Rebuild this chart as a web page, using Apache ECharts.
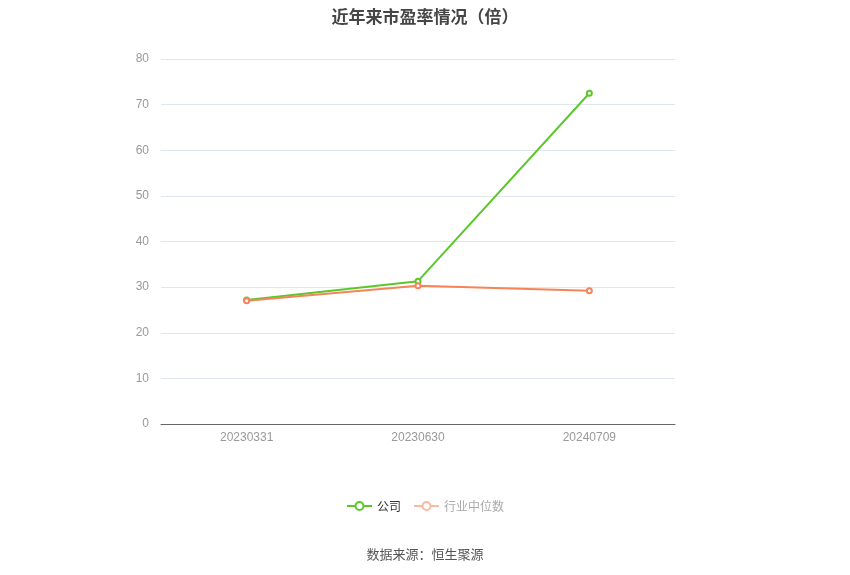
<!DOCTYPE html>
<html>
<head>
<meta charset="utf-8">
<script src="https://cdn.jsdelivr.net/npm/echarts@6/dist/echarts.min.js"></script>
<style>
  html, body { margin: 0; padding: 0; background: #fff; }
  #chart { width: 850px; height: 575px; }
</style>
</head>
<body>
<div id="chart"></div>
<script>
var dates = ['20230331', '20230630', '20240709'];
var company = [27.2, 31.3, 72.5];
var industry = [27.0, 30.3, 29.2];
var yTicks = [0, 10, 20, 30, 40, 50, 60, 70, 80];

var myChart = echarts.init(document.getElementById('chart'));
var option = {
  backgroundColor: '#fff',
  title: {
    text: '近年来市盈率情况（倍）',
    left: 'center',
    top: 3,
    textStyle: { fontSize: 17, fontWeight: 'bold', color: '#464646', fontFamily: 'Noto Sans CJK SC' }
  },
  legend: {
    bottom: 58,
    left: 'center',
    itemWidth: 25,
    itemHeight: 10,
    itemGap: 12,
    textStyle: { fontSize: 12, fontFamily: 'Noto Sans CJK SC' },
    data: [
      { name: '公司', textStyle: { color: '#333' } },
      { name: '行业中位数', textStyle: { color: '#aaa' }, itemStyle: { color: '#fbb9a1' }, lineStyle: { color: '#fbb9a1' } }
    ]
  },
  graphic: [{
    type: 'text',
    left: 'center',
    top: 548,
    style: { text: '数据来源：恒生聚源', fill: '#555', fontSize: 13, fontFamily: 'Noto Sans CJK SC' }
  }],
  grid: { left: 161, right: 175, top: 59, bottom: 151 },
  xAxis: {
    type: 'category',
    data: dates,
    axisLine: { lineStyle: { color: '#666' } },
    axisTick: { alignWithLabel: true, lineStyle: { color: '#666' } },
    axisLabel: { color: '#999', fontSize: 12, margin: 8 }
  },
  yAxis: {
    type: 'value',
    min: yTicks[0],
    max: yTicks[yTicks.length - 1],
    interval: 10,
    axisLine: { show: false },
    axisTick: { show: false },
    axisLabel: { color: '#999', fontSize: 12, margin: 12 },
    splitLine: { lineStyle: { color: '#e0e6f1' } }
  },
  series: [
    {
      name: '公司',
      type: 'line',
      data: company,
      symbol: 'emptyCircle',
      symbolSize: 5,
      color: '#5cc72a',
      lineStyle: { width: 2 },
      itemStyle: { borderWidth: 2 }
    },
    {
      name: '行业中位数',
      type: 'line',
      data: industry,
      symbol: 'emptyCircle',
      symbolSize: 5,
      color: '#f4845a',
      lineStyle: { width: 2 },
      itemStyle: { borderWidth: 2 }
    }
  ]
};
myChart.setOption(option);
</script>
</body>
</html>
